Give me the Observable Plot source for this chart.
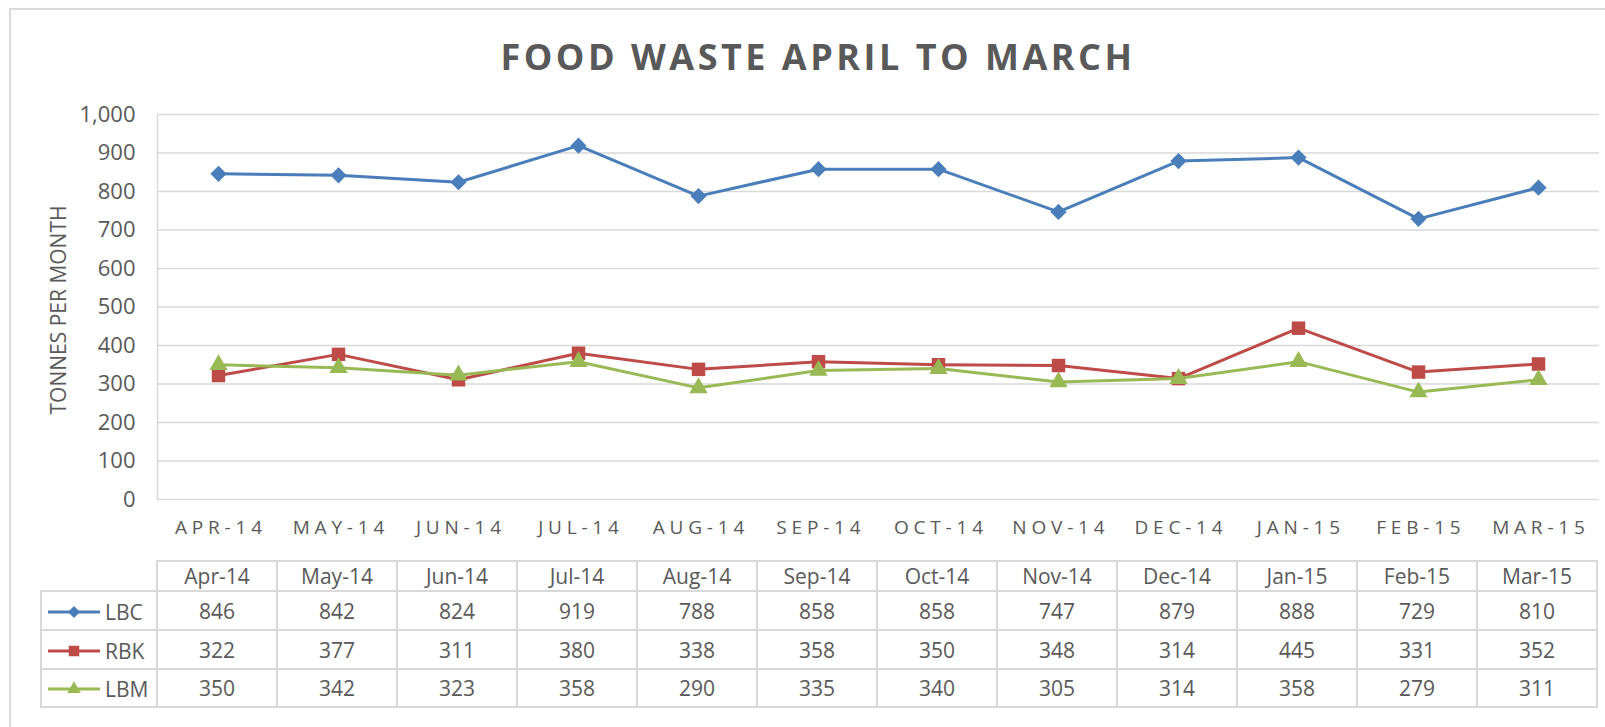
<!DOCTYPE html>
<html>
<head>
<meta charset="utf-8">
<script src="https://cdn.jsdelivr.net/npm/d3@7"></script>
<script src="https://cdn.jsdelivr.net/npm/@observablehq/plot@0.6"></script>
<style>
  html, body { margin: 0; padding: 0; background: #fff; overflow: hidden; }
  #wrap { position: relative; width: 1605px; height: 727px; overflow: hidden; font-family: "Open Sans", sans-serif; color: #595959; }
  #frame { position: absolute; left: 9px; top: 8px; width: 1640px; height: 760px; border-top: 2px solid #d9d9d9; border-left: 2px solid #d9d9d9; }
  #title { position: absolute; left: 818px; top: 39px; transform: translateX(-50%); white-space: nowrap;
           font-family: "Open Sans", sans-serif; font-weight: 700; font-size: 36px; line-height: 36px; letter-spacing: 3.5px; color: #595959; }
  #chart { position: absolute; left: 0; top: 0; }
  #chart svg g[aria-label="x-axis tick label"] text { letter-spacing: 4.8px; }
  #table { position: absolute; left: 40px; top: 560px; border-collapse: collapse; table-layout: fixed; width: 1558px;
           font-family: "Open Sans", sans-serif; font-size: 21px; color: #595959; }
  #table td { border: 2px solid #d9d9d9; text-align: center; padding: 0; white-space: nowrap; overflow: hidden; }
  #table td.blank { border-top: none; border-left: none; }
  #table td.key { text-align: left; }
  #table td.key svg { vertical-align: middle; margin-left: 5px; }
  #table td.key span { vertical-align: middle; margin-left: 4px; }
</style>
</head>
<body>
<div id="wrap">
  <div id="frame"></div>
  <div id="chart"></div>
  <div id="title"></div>
  <table id="table"></table>
</div>
<script>
// ---- data ----
const months = ["Apr-14","May-14","Jun-14","Jul-14","Aug-14","Sep-14","Oct-14","Nov-14","Dec-14","Jan-15","Feb-15","Mar-15"];
const seriesNames = ["LBC","RBK","LBM"];
const lbc = [846,842,824,919,788,858,858,747,879,888,729,810];
const rbk = [322,377,311,380,338,358,350,348,314,445,331,352];
const lbm = [350,342,323,358,290,335,340,305,314,358,279,311];
const seriesColors = ["#4a7ebb","#be4b48","#98b954"];
const seriesSymbols = ["diamond2","square","triangle"];
const yTicks = [0,100,200,300,400,500,600,700,800,900,1000];
const titleText = "FOOD WASTE APRIL TO MARCH";
const yTitle = "TONNES PER MONTH";

const seriesValues = [lbc, rbk, lbm];
const rows = seriesNames.flatMap((s, k) => months.map((m, i) => ({series: s, month: m, value: seriesValues[k][i]})));
const markerR = {diamond2: 7.3, square: 7.6, triangle: 6.8};

document.getElementById("title").textContent = titleText;

const marks = [
  Plot.gridY(yTicks, {stroke: "#d9d9d9", strokeOpacity: 1, strokeWidth: 1.5}),
  Plot.frame({anchor: "left", stroke: "#d9d9d9", strokeWidth: 1.5}),
  Plot.axisY(yTicks, {tickSize: 0, tickPadding: 22, tickFormat: d3.format(","), fontSize: 22, label: null}),
  Plot.axisX({tickSize: 0, tickPadding: 21, tickFormat: d => d.toUpperCase(), fontSize: 19, dx: 2.4, label: null}),
  Plot.text([yTitle], {frameAnchor: "left", dx: -98, dy: 3, rotate: -90, textAnchor: "middle", fontSize: 21, fill: "#595959"})
];
seriesNames.forEach((s, k) => {
  const d = rows.filter(r => r.series === s);
  marks.push(Plot.line(d, {x: "month", y: "value", stroke: seriesColors[k], strokeWidth: 3}));
  marks.push(Plot.dot(d, {x: "month", y: "value", symbol: seriesSymbols[k], fill: seriesColors[k], stroke: "none", r: markerR[seriesSymbols[k]]}));
});

const chart = Plot.plot({
  width: 1605,
  height: 560,
  marginLeft: 157,
  marginRight: 6,
  marginTop: 114,
  marginBottom: 61,
  style: {color: "#595959", fontFamily: "Open Sans, sans-serif", background: "transparent"},
  x: {type: "point", domain: months, padding: 0.5},
  y: {domain: [0, 1000]},
  marks
});
document.getElementById("chart").appendChild(chart);

// ---- data table below the chart ----
const symbolTypes = {diamond2: d3.symbolDiamond2, square: d3.symbolSquare, triangle: d3.symbolTriangle};
const table = document.getElementById("table");
let html = '<colgroup><col style="width:116px">' + months.map(() => '<col>').join('') + '</colgroup>';
html += '<tr style="height:28px"><td class="blank"></td>' + months.map(m => `<td>${m}</td>`).join('') + '</tr>';
const rowH = [39, 39, 38];
seriesNames.forEach((s, k) => {
  const path = d3.symbol(symbolTypes[seriesSymbols[k]], k === 0 ? 90 : (k === 1 ? 110 : 80))();
  const key = `<svg width="54" height="20" viewBox="-27 -10 54 20"><line x1="-26" x2="26" y1="0" y2="0" stroke="${seriesColors[k]}" stroke-width="3"/><path d="${path}" fill="${seriesColors[k]}"/></svg>`;
  html += `<tr style="height:${rowH[k]}px"><td class="key">${key}<span>${s}</span></td>` +
          seriesValues[k].map(v => `<td>${v}</td>`).join('') + '</tr>';
});
table.innerHTML = html;
</script>
</body>
</html>
